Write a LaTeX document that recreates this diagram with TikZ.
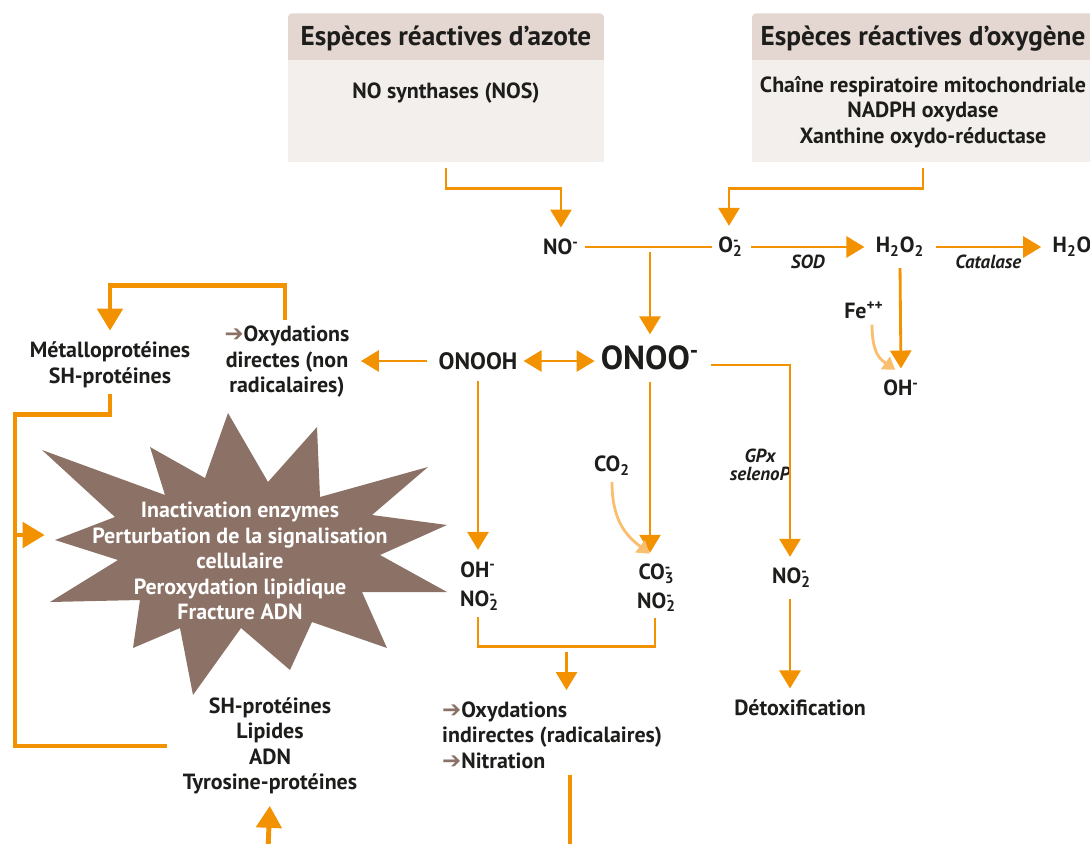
\documentclass[tikz,border=0pt]{standalone}
\usepackage{fontspec}
\setmainfont{PT Sans}
\newfontfamily\symfont{DejaVu Sans}
\usetikzlibrary{arrows.meta,calc}

\definecolor{flowcol}{HTML}{F39200}
\definecolor{softcol}{HTML}{F9BE6E}
\definecolor{starcol}{HTML}{8C7266}
\definecolor{hdrcol}{HTML}{E4D7D1}
\definecolor{bodycol}{HTML}{F3EFEC}
\definecolor{ink}{HTML}{1D1D1B}

% charge written over the index
\newcommand\chg[2]{\rlap{\textsubscript{#1}}\textsuperscript{#2}}
\newcommand\fwd{{\color{starcol}\symfont\mdseries\fontsize{13}{13}\selectfont ➔}}

\begin{document}
\begin{tikzpicture}[x=0.02cm,y=-0.02cm,font=\bfseries\fontsize{12.5}{14.5}\selectfont,
    >={Triangle[length=0.36cm,width=0.42cm]}]
    \tikzstyle{lbl}=[text=ink, align=center]
    \tikzstyle{enz}=[text=ink, inner sep=1pt, align=center, font=\bfseries\itshape\fontsize{10.8}{10}\selectfont]
    \tikzstyle{link}=[draw=flowcol, line width=1.6pt]
    \tikzstyle{flow}=[link, ->, shorten >=3pt, shorten <=3pt]
    \tikzstyle{thick link}=[draw=flowcol, line width=2.8pt]
    \tikzstyle{thick flow}=[thick link, -{Triangle[length=0.44cm,width=0.5cm]}, shorten >=3pt]
    \tikzstyle{soft}=[draw=softcol, line width=1.6pt, -{Triangle[length=0.24cm,width=0.3cm]}, shorten >=4pt]
    \tikzstyle{head}=[fill=hdrcol, text=ink, rounded corners=2.2pt, anchor=north, minimum height=1.02cm,
        font=\bfseries\fontsize{15.5}{17}\selectfont]
    \tikzstyle{body}=[fill=bodycol, text=ink, align=center, anchor=north, inner ysep=0pt]

    \useasboundingbox (0,0) rectangle (1090,843);
    \clip (0,0) rectangle (1090,843);

    % Draw the two source boxes
    \node[head, minimum width=6.32cm] (azoteh) at (446,13) {Espèces réactives d’azote};
    \node[body, minimum width=6.32cm, text height=0.76cm, text depth=1.28cm] (azote) at (446,60)
        {NO synthases (NOS)};
    \node[head, minimum width=6.84cm] (oxyh) at (923,13) {Espèces réactives d’oxygène};
    \node[body, minimum width=6.84cm, text height=1.66cm, text depth=0.38cm] (oxy) at (923,60)
        {Chaîne respiratoire mitochondriale\\NADPH oxydase\\Xanthine oxydo-réductase};

    % Draw the damage star
    \fill[starcol] (228,413) -- (268,482) -- (317,427) -- (320,497) -- (428,467) -- (372,515)
        -- (447,525) -- (380,555) -- (447,592) -- (362,592) -- (387,648) -- (312,622)
        -- (290,670) -- (241,628) -- (193,695) -- (180,628) -- (133,648) -- (140,600)
        -- (50,602) -- (118,560) -- (55,540) -- (115,517) -- (42,450) -- (165,495)
        -- (150,447) -- (205,478) -- cycle;
    \node[lbl, text=white] (harm) at (240,561) {Inactivation enzymes\\Perturbation de la signalisation\\cellulaire\\Peroxydation lipidique\\Fracture ADN};

    % Draw the species
    \node[lbl] (no) at (561,247) {NO\textsuperscript{-}};
    \node[lbl] (o2) at (729,247) {O\chg{2}{-}};
    \node[lbl] (h2o2) at (900,247) {H\textsubscript{2}O\textsubscript{2}};
    \node[lbl] (h2o) at (1072,247) {H\textsubscript{2}O};
    \node[lbl] (fe) at (864,310) {Fe\textsuperscript{++}};
    \node[lbl] (oh) at (901,388) {OH\textsuperscript{-}};
    \node[lbl, font=\bfseries\fontsize{19}{22}\selectfont] (onoo) at (650,358) {ONOO\textsuperscript{-}};
    \node[lbl, font=\bfseries\fontsize{13.5}{15}\selectfont] (onooh) at (478,361) {ONOOH};
    \node[lbl] (oxdir) at (287,362) {\fwd Oxydations\\directes (non\\radicalaires)};
    \node[lbl] (metallo) at (110,365) {Métalloprotéines\\SH-protéines};
    \node[lbl] (ohno) at (478,586) {OH\textsuperscript{-}\\[2.5pt]NO\chg{2}{-}};
    \node[lbl] (co2) at (612,466) {CO\textsubscript{2}};
    \node[lbl] (co3) at (655,588) {CO\chg{3}{-}\\[1.5pt]NO\chg{2}{-}};
    \node[enz] (gpx) at (760,465) {GPx\\selenoP};
    \node[lbl] (no2) at (790,578) {NO\chg{2}{-}};
    \node[lbl] (detox) at (800,708) {Détoxification};
    \node[lbl, align=left, anchor=west] (oxind) at (436,735) {\fwd Oxydations\\indirectes (radicalaires)\\\fwd Nitration};
    \node[lbl] (targets) at (270,746) {SH-protéines\\Lipides\\ADN\\Tyrosine-protéines};

    % Sources to radicals
    \draw[flow] (azote.south) -- ++(0,26) -| (no.north);
    \draw[flow] (oxy.south) -- ++(0,26) -| (o2.north);
    \draw[link] (no.east) -- (o2.west);
    \draw[flow] (onoo.north |- no.east) -- (onoo.north);
    \draw[flow] (o2.east) -- node[enz, below=3pt] (sod) {SOD} (h2o2.west);
    \draw[flow] (h2o2.east) -- node[enz, below=3pt] (catalase) {Catalase} (h2o.west);
    \draw[flow] (h2o2.south) -- (oh.north);
    \draw[soft] ([xshift=0.16cm]fe.south) .. controls +(0,30) and +(-20,-14) .. (oh.north);

    % Peroxynitrite paths
    \draw[link, <->] (onooh.east) -- (onoo.west |- onooh.east);
    \draw[flow] (onooh.west) -- (oxdir.east |- onooh.west);
    \draw[flow] (onooh.south) -- (onooh.south |- ohno.north);
    \draw[flow] (onoo.south) -- (onoo.south |- co3.north);
    \draw[soft] (co2.south) .. controls +(0,40) and +(-28,-22) .. (co3.north);
    \draw[flow] ([yshift=-0.14cm]onoo.east) -| (no2.north);
    \draw[flow] (no2.south) -- (no2.south |- detox.north);
    \draw[link] (ohno.south) -- ++(0,30) coordinate (jl) -| (co3.south);
    \coordinate (jm) at ($(jl)!0.5!(jl -| co3.south)$);
    \draw[flow] (jm) -- (jm |- oxind.north);

    % Loops round the targets
    \coordinate (outb) at (570,850);
    \coordinate (inb) at (268,850);
    \coordinate (rail) at (15,535);
    \coordinate (starw) at (50,535);
    \draw[thick link] (outb |- oxind.south) -- (outb);
    \draw[thick flow] (inb) -- (targets.south);
    \draw[thick flow] ([xshift=-0.04cm]oxdir.north) -- ++(0,-35) -| (metallo.north);
    \draw[thick link] (metallo.south) -- ++(0,20) -| (rail) |- ([xshift=-0.2cm]targets.west);
    \draw[thick flow] (rail) -- (starw);
\end{tikzpicture}
\end{document}
